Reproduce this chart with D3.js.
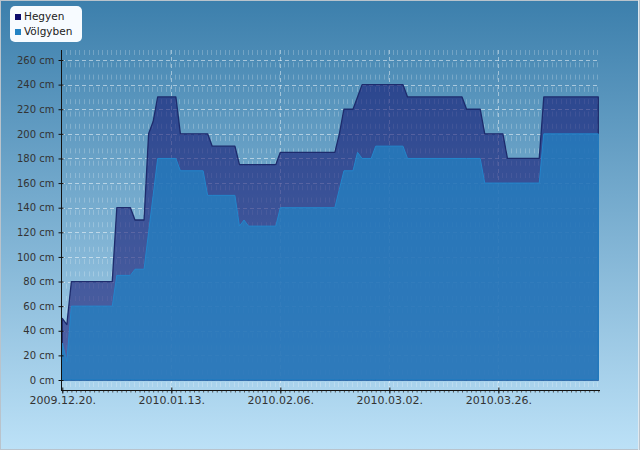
<!DOCTYPE html>
<html><head><meta charset="utf-8">
<script src="https://cdn.jsdelivr.net/npm/d3@7"></script>
<style>html,body{margin:0;padding:0;background:#fff}svg{display:block}</style>
</head><body>
<svg id="c" width="640" height="450"></svg>
<script>
const dates = ["2009-12-20","2009-12-21","2009-12-22","2009-12-31","2010-01-01","2010-01-04","2010-01-05","2010-01-07","2010-01-08","2010-01-09","2010-01-10","2010-01-14","2010-01-15","2010-01-20","2010-01-21","2010-01-22","2010-01-27","2010-01-28","2010-01-29","2010-01-30","2010-02-05","2010-02-06","2010-02-18","2010-02-19","2010-02-20","2010-02-22","2010-02-23","2010-02-24","2010-02-26","2010-02-27","2010-03-05","2010-03-06","2010-03-18","2010-03-19","2010-03-22","2010-03-23","2010-03-27","2010-03-28","2010-04-04","2010-04-05","2010-04-17"];
const hegyen =   [50,45,80,80,140,140,130,130,200,210,230,230,200,200,200,190,190,175,175,175,175,185,185,200,220,220,230,240,240,240,240,230,230,220,220,200,200,180,180,230,230];
const volgyben = [30,15,60,60,85,85,90,90,120,150,180,180,170,170,150,150,150,125,130,125,125,140,140,155,170,170,185,180,180,190,190,180,180,180,180,160,160,160,160,200,200];
const seriesNames = ["Hegyen","Völgyben"];
const seriesColors = ["#0c0c6c","#2383c4"];
const xTickDates = ["2009-12-20","2010-01-13","2010-02-06","2010-03-02","2010-03-26"];
const yTickValues = [0,20,40,60,80,100,120,140,160,180,200,220,240,260];

(function(){
const parse = d3.utcParse("%Y-%m-%d");
const rows = dates.map((d,i)=>({date:parse(d), h:hegyen[i], v:volgyben[i]}));
const svg = d3.select("#c");
const W=640,H=450;
const defs = svg.append("defs");
const bg = defs.append("linearGradient").attr("id","bg").attr("x1",0).attr("y1",0).attr("x2",0).attr("y2",1);
bg.append("stop").attr("offset","0").attr("stop-color","#3c7fac");
bg.append("stop").attr("offset","1").attr("stop-color","#bce1f7");
svg.append("rect").attr("width",W).attr("height",H).attr("fill","url(#bg)");
svg.append("rect").attr("x",0.5).attr("y",0.5).attr("width",W-1).attr("height",H-1).attr("fill","none").attr("stroke","#b9c3cc");
svg.append("line").attr("x1",638.5).attr("x2",638.5).attr("y1",0).attr("y2",H).attr("stroke","#dfe9f0");

const x = d3.scaleUtc().domain([parse("2009-12-20"), parse("2010-04-17")]).range([62.3, 598.3]);
const y = d3.scaleLinear().domain([-8.125, 268.125]).range([390, 50]);
const pTop = 50, pBottom = 390, pLeft = 61, pRight = 600;

const g = svg.append("g");
const days = d3.utcDay.range(parse("2009-12-20"), d3.utcDay.offset(parse("2010-04-17"),1));
g.selectAll("line.mg").data(days).join("line").attr("class","mg")
  .attr("x1",d=>Math.round(x(d))-0.5).attr("x2",d=>Math.round(x(d))-0.5)
  .attr("y1",pTop).attr("y2",pBottom)
  .attr("stroke","rgba(255,255,255,0.22)").attr("stroke-dasharray","5,7.3");
g.selectAll("line.hg").data(yTickValues).join("line").attr("class","hg")
  .attr("x1",pLeft).attr("x2",pRight)
  .attr("y1",d=>Math.round(y(d))+0.5).attr("y2",d=>Math.round(y(d))+0.5)
  .attr("stroke","rgba(255,255,255,0.5)").attr("stroke-dasharray","4,3");
g.selectAll("line.vg").data(xTickDates.slice(1).map(parse)).join("line").attr("class","vg")
  .attr("x1",d=>Math.round(x(d))+0.5).attr("x2",d=>Math.round(x(d))+0.5)
  .attr("y1",pTop).attr("y2",pBottom)
  .attr("stroke","rgba(255,255,255,0.45)").attr("stroke-dasharray","4,3");

const areaH = d3.area().x(d=>x(d.date)).y0(y(0)).y1(d=>y(d.h));
const areaV = d3.area().x(d=>x(d.date)).y0(y(0)).y1(d=>y(d.v));
svg.append("path").attr("d",areaH(rows))
  .attr("fill",seriesColors[0]).attr("fill-opacity",0.56)
  .attr("stroke","#1d2b6c").attr("stroke-width",1.3).attr("stroke-linejoin","round");
svg.append("path").attr("d",areaV(rows))
  .attr("fill",seriesColors[1]).attr("fill-opacity",0.74)
  .attr("stroke","#2386cc").attr("stroke-width",1).attr("stroke-linejoin","round");

const yAxis = d3.axisLeft(y).tickValues(yTickValues).tickSize(3).tickPadding(5).tickFormat(d=>d+" cm");
const ya = svg.append("g").attr("transform",`translate(${pLeft+0.5},0)`).call(yAxis);
ya.select(".domain").attr("d",`M0,${pTop}V${pBottom+1}`).attr("stroke","#111");
ya.selectAll(".tick line").attr("x1",2).attr("x2",-3).attr("stroke","#111");
ya.selectAll(".tick text").attr("font-family","DejaVu Sans, sans-serif").attr("font-size",10).attr("fill","#333").attr("x",-7);

const xMinor = d3.axisBottom(x).tickValues(days).tickSize(2).tickFormat("");
const xm = svg.append("g").attr("transform",`translate(0,${pBottom+0.5})`).call(xMinor);
xm.select(".domain").remove();
xm.selectAll(".tick line").attr("stroke","#555");
const xAxis = d3.axisBottom(x).tickValues(xTickDates.map(parse)).tickSize(3).tickPadding(3).tickFormat(d3.utcFormat("%Y.%m.%d."));
const xa = svg.append("g").attr("transform",`translate(0,${pBottom+0.5})`).call(xAxis);
xa.select(".domain").attr("d",`M${pLeft},0H${pRight}`).attr("stroke","#111");
xa.selectAll(".tick line").attr("y1",-3).attr("y2",3).attr("stroke","#111");
xa.selectAll(".tick text").attr("font-family","DejaVu Sans, sans-serif").attr("font-size",11).attr("fill","#333");

const lg = svg.append("g");
lg.append("rect").attr("x",10).attr("y",6).attr("width",72).attr("height",36).attr("rx",5).attr("fill","#f7fbff");
seriesNames.forEach((n,i)=>{
  lg.append("rect").attr("x",15).attr("y",14+i*15).attr("width",6).attr("height",6).attr("fill",seriesColors[i]);
  lg.append("text").attr("x",24).attr("y",20+i*15).attr("font-family","DejaVu Sans, sans-serif").attr("font-size",10.5).attr("fill","#222").text(n);
});
})();
</script>
</body></html>
